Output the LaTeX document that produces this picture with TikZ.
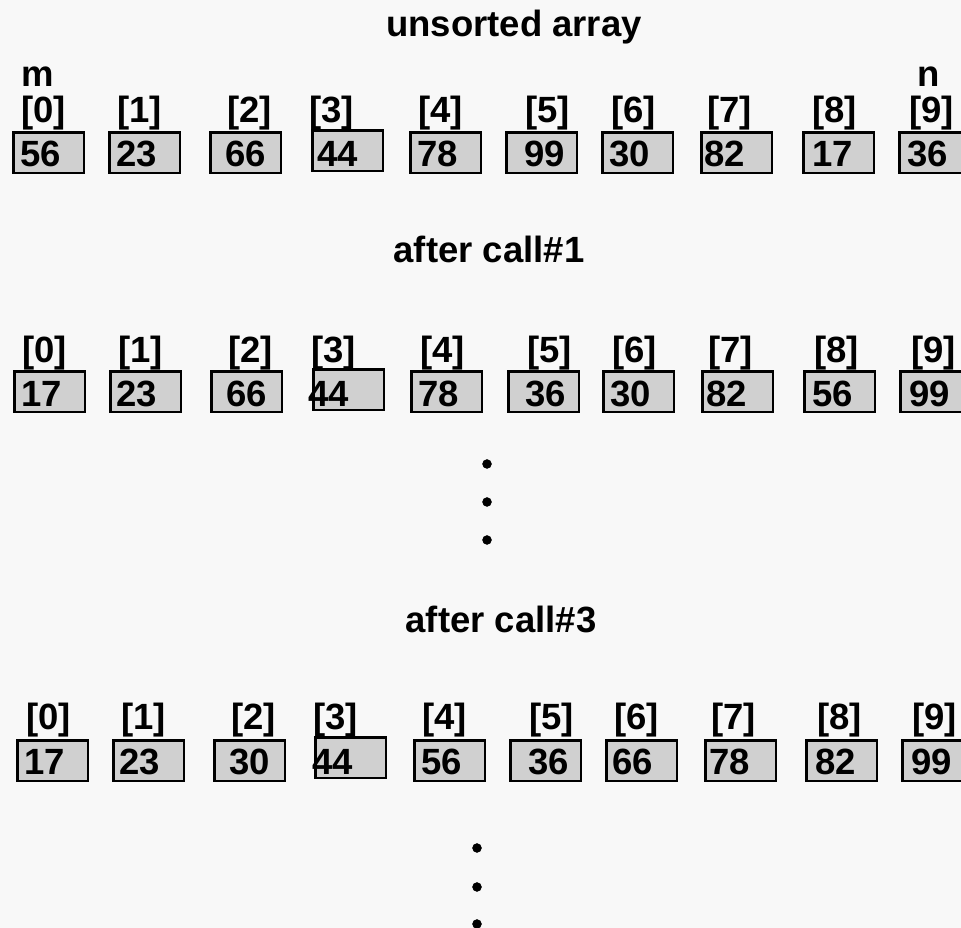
\documentclass[tikz,border=0pt]{standalone}
\usepackage{fontspec}
\setmainfont{Liberation Sans}
\definecolor{pagegray}{RGB}{248,248,248}
\definecolor{cellgray}{RGB}{208,208,208}
\tikzset{
  cell/.style={draw=black, fill=cellgray, line width=2.6pt, minimum width=70.5pt, minimum height=40.5pt, anchor=north west, inner sep=0pt},
  val/.style={anchor=base west, inner sep=0pt},
  idx/.style={anchor=base west, inner sep=0pt},
  ttl/.style={anchor=base, inner sep=0pt}
}
\begin{document}
\begin{tikzpicture}[x=1pt, y=1pt, every node/.style={font=\fontsize{36.5}{40}\selectfont\bfseries}]
    \clip (0,0) rectangle (961,928);
    \fill[pagegray] (0,0) rectangle (961,928);
    % unsorted array
    \node[ttl] (t1) at (514,891) {unsorted array};
    \node[idx] (m) at (21,841) {m};
    \node[idx] (n) at (917,841) {n};
    \foreach \bx/\by/\vx/\lx/\v [count=\i from 0] in {11/798/20/21/56, 107/798/116/117/23, 208/798/225/227/66, 310/800/317/309/44, 408/798/417/418/78, 504/798/524/525/99, 600/798/609/611/30, 699/798/704/707/82, 801/798/812/812/17, 897/798/907/909/36}{
        \node[cell] (b1-\i) at (\bx+1.3,\by-1.3) {};
        \node[val] (v1-\i) at (\vx,761) {\v};
        \node[idx] (l1-\i) at (\lx,805) {[\i]};
    }
    % after call#1
    \node[ttl] (t2) at (489,665) {after call\#1};
    \foreach \bx/\by/\vx/\lx/\v [count=\i from 0] in {12/559/21/22/17, 108/559/116/118/23, 209/559/226/228/66, 311/561/308/311/44, 409/559/418/420/78, 506/559/525/527/36, 601/559/610/612/30, 700/559/706/708/82, 802/559/812/814/56, 898/559/909/911/99}{
        \node[cell] (b2-\i) at (\bx+1.3,\by-1.3) {};
        \node[val] (v2-\i) at (\vx,521) {\v};
        \node[idx] (l2-\i) at (\lx,565) {[\i]};
    }
    \filldraw (487,464) circle (4.5); \filldraw (487,426) circle (4.5); \filldraw (487,388) circle (4.5);
    % after call#3
    \node[ttl] (t3) at (501,295) {after call\#3};
    \foreach \bx/\by/\vx/\lx/\v [count=\i from 0] in {15/190/24/26/17, 111/190/119/121/23, 212/190/229/231/30, 313/193/312/313/44, 412/190/421/422/56, 508/190/528/529/36, 604/190/612/614/66, 703/190/709/711/78, 804/190/815/817/82, 900/190/911/912/99}{
        \node[cell] (b3-\i) at (\bx+1.3,\by-1.3) {};
        \node[val] (v3-\i) at (\vx,153) {\v};
        \node[idx] (l3-\i) at (\lx,198) {[\i]};
    }
    \filldraw (477,80) circle (4.5); \filldraw (477,41) circle (4.5); \filldraw (477,4) circle (4.5);
\end{tikzpicture}
\end{document}
